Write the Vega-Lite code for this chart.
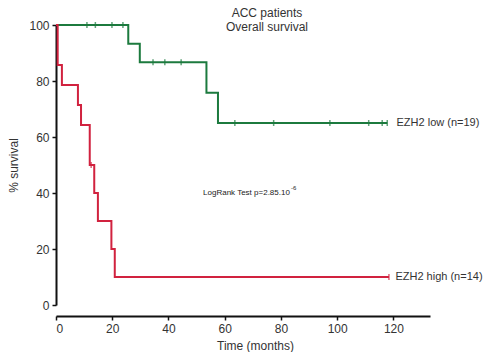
{
  "$schema": "https://vega.github.io/schema/vega-lite/v6.json",
  "width": 374,
  "height": 280,
  "autosize": {"type": "none"},
  "padding": {"left": 56, "top": 25, "right": 58, "bottom": 47},
  "background": "white",
  "config": {
    "view": {"stroke": null},
    "font": "Liberation Sans",
    "axis": {"grid": false, "domainColor": "#111", "tickColor": "#111", "labelColor": "#333", "titleColor": "#333", "labelFont": "Liberation Sans", "titleFont": "Liberation Sans", "titleFontWeight": "normal", "labelFontSize": 12, "titleFontSize": 12}
  },
  "title": {
    "text": ["ACC patients", "Overall survival"],
    "fontSize": 12,
    "fontWeight": "normal",
    "color": "#333",
    "font": "Liberation Sans",
    "anchor": "middle",
    "dx": 24,
    "offset": -15,
    "lineHeight": 14
  },
  "datasets": {
    "curves": [
      {"group": "low", "month": 0, "survival": 100},
      {"group": "low", "month": 25.7, "survival": 93.3},
      {"group": "low", "month": 29.8, "survival": 86.7},
      {"group": "low", "month": 53.5, "survival": 75.8},
      {"group": "low", "month": 57.6, "survival": 65},
      {"group": "low", "month": 117.8, "survival": 65},
      {"group": "high", "month": 0, "survival": 100},
      {"group": "high", "month": 0.6, "survival": 85.7},
      {"group": "high", "month": 2.1, "survival": 78.6},
      {"group": "high", "month": 7.8, "survival": 71.4},
      {"group": "high", "month": 8.9, "survival": 64.3},
      {"group": "high", "month": 12.0, "survival": 50},
      {"group": "high", "month": 13.6, "survival": 40},
      {"group": "high", "month": 14.9, "survival": 30},
      {"group": "high", "month": 19.7, "survival": 20},
      {"group": "high", "month": 20.9, "survival": 10},
      {"group": "high", "month": 118.4, "survival": 10}
    ],
    "censored": [
      {"group": "low", "month": 11, "survival": 100},
      {"group": "low", "month": 14, "survival": 100},
      {"group": "low", "month": 19.9, "survival": 100},
      {"group": "low", "month": 23.8, "survival": 100},
      {"group": "low", "month": 34.5, "survival": 86.7},
      {"group": "low", "month": 38.7, "survival": 86.7},
      {"group": "low", "month": 44.5, "survival": 86.7},
      {"group": "low", "month": 63.6, "survival": 65},
      {"group": "low", "month": 77.4, "survival": 65},
      {"group": "low", "month": 97.4, "survival": 65},
      {"group": "low", "month": 111.2, "survival": 65},
      {"group": "low", "month": 116, "survival": 65},
      {"group": "low", "month": 117.8, "survival": 65},
      {"group": "high", "month": 12.5, "survival": 50},
      {"group": "high", "month": 118.4, "survival": 10}
    ],
    "labels": [
      {"label": "EZH2 low (n=19)", "month": 121.1, "survival": 65},
      {"label": "EZH2 high (n=14)", "month": 120.7, "survival": 10}
    ],
    "notes": [
      {"text": "LogRank Test p=2.85.10", "month": 52.3, "survival": 40}
    ],
    "sup": [
      {"text": "-6", "month": 83.6, "survival": 41.8}
    ]
  },
  "layer": [
    {
      "data": {"name": "curves"},
      "mark": {"type": "line", "interpolate": "step-after", "strokeWidth": 2},
      "encoding": {
        "x": {"field": "month", "type": "quantitative", "scale": {"domain": [0, 133], "nice": false, "zero": false}, "axis": {"title": "Time (months)", "values": [0, 10, 20, 30, 40, 50, 60, 70, 80, 90, 100, 110, 120], "offset": 11, "domainWidth": 2, "tickWidth": 1.5, "tickSize": 4, "labelPadding": 3, "titlePadding": 6, "titleX": 199}},
        "y": {"field": "survival", "type": "quantitative", "scale": {"domain": [0, 100], "nice": false}, "axis": {"title": "% survival", "values": [0, 20, 40, 60, 80, 100], "domainWidth": 2, "tickWidth": 1.5, "tickSize": 4, "labelPadding": 3, "titlePadding": 8}},
        "color": {"field": "group", "type": "nominal", "scale": {"domain": ["low", "high"], "range": ["#1c7a3e", "#d1223f"]}, "legend": null}
      }
    },
    {
      "data": {"name": "censored"},
      "mark": {"type": "tick", "orient": "vertical", "size": 6, "thickness": 1.5},
      "encoding": {
        "x": {"field": "month", "type": "quantitative"},
        "y": {"field": "survival", "type": "quantitative"},
        "color": {"field": "group", "type": "nominal", "legend": null}
      }
    },
    {
      "data": {"name": "labels"},
      "mark": {"type": "text", "align": "left", "baseline": "middle", "fontSize": 11, "color": "#333"},
      "encoding": {
        "x": {"field": "month", "type": "quantitative"},
        "y": {"field": "survival", "type": "quantitative"},
        "text": {"field": "label"}
      }
    },
    {
      "data": {"name": "notes"},
      "mark": {"type": "text", "align": "left", "baseline": "middle", "fontSize": 8, "color": "#222"},
      "encoding": {
        "x": {"field": "month", "type": "quantitative"},
        "y": {"field": "survival", "type": "quantitative"},
        "text": {"field": "text"}
      }
    },
    {
      "data": {"name": "sup"},
      "mark": {"type": "text", "align": "left", "baseline": "middle", "fontSize": 6, "color": "#222"},
      "encoding": {
        "x": {"field": "month", "type": "quantitative"},
        "y": {"field": "survival", "type": "quantitative"},
        "text": {"field": "text"}
      }
    }
  ]
}
